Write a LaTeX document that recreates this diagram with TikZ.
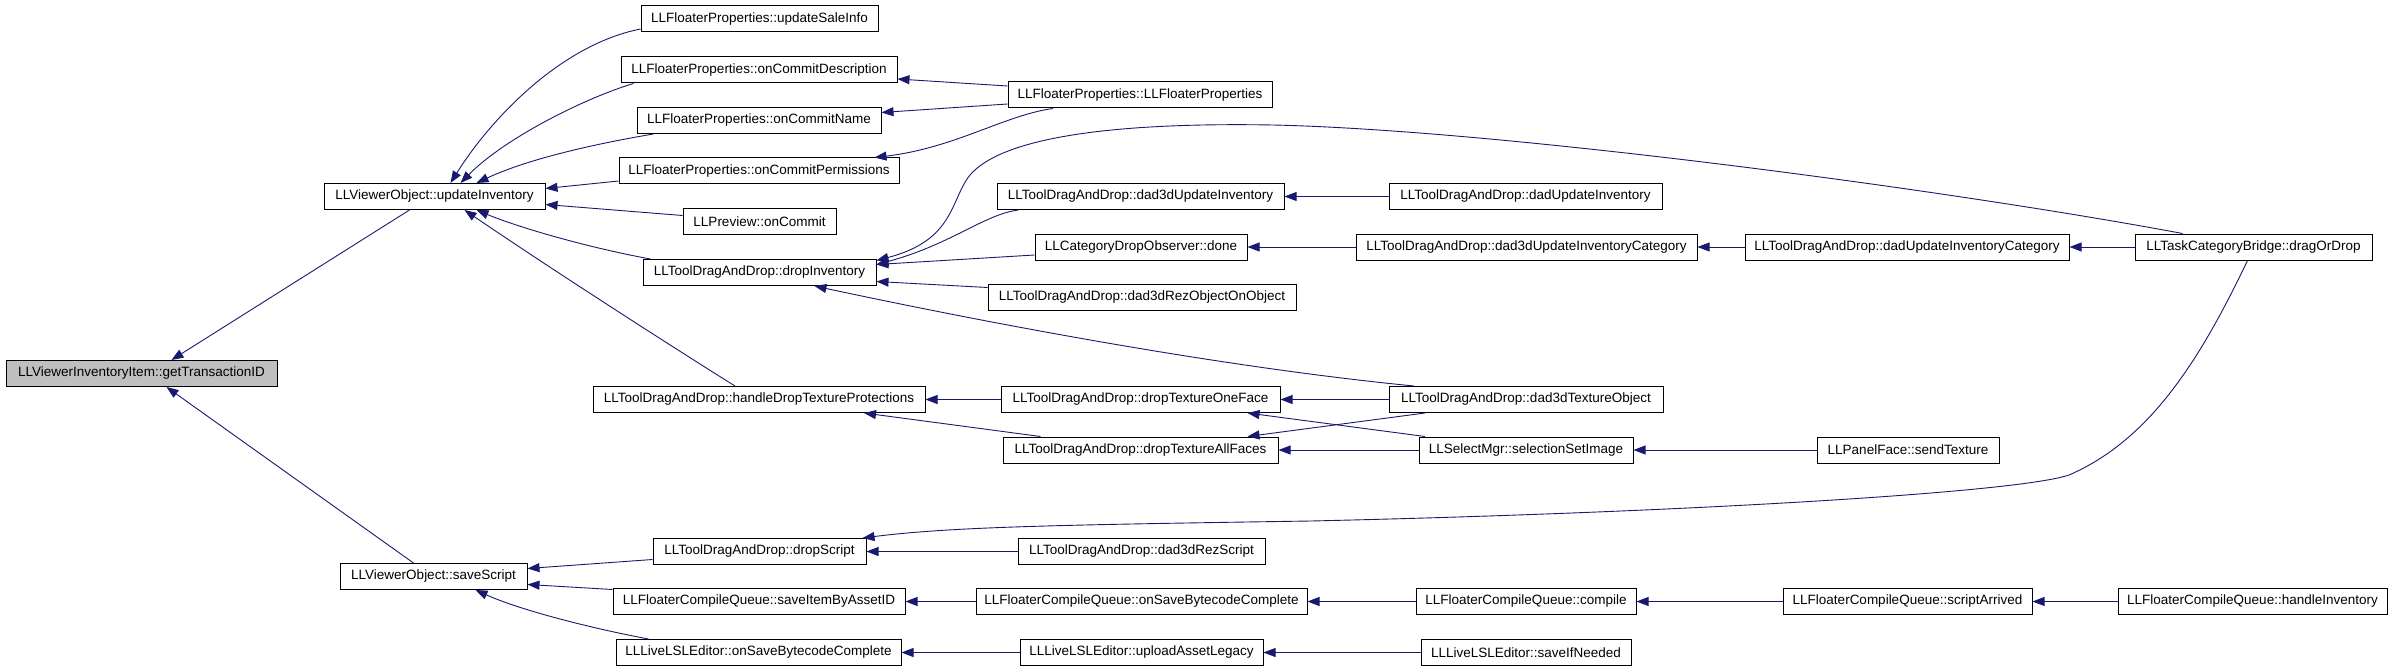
\documentclass[tikz,border=0pt]{standalone}
\usepackage{fontspec}
\setmainfont{Liberation Sans}
\usetikzlibrary{arrows.meta}
\definecolor{edgeblue}{HTML}{191970}
\definecolor{rootgray}{HTML}{BFBFBF}
\tikzset{
  fn/.style={draw=black, line width=1pt, fill=white, inner sep=0pt,
    minimum height=26pt, font=\fontsize{13.5pt}{15pt}\selectfont},
  edge/.style={draw=edgeblue, line width=0.9pt,
    -{Triangle[length=12pt,width=9pt]}}
}
\begin{document}
\begin{tikzpicture}[x=1pt,y=-1pt]
\fill[white] (0,0) rectangle (2392,671);
\useasboundingbox (0,0) rectangle (2392,671);
% column 1
\node[fn, fill=rootgray, minimum width=271pt] (gt) at (141.5,373.5) {LLViewerInventoryItem::getTransactionID};
% column 2
\node[fn, minimum width=221pt] (ui) at (434.5,196.5) {LLViewerObject::updateInventory};
\node[fn, minimum width=187pt] (ss) at (433.5,576.5) {LLViewerObject::saveScript};
% column 3
\node[fn, minimum width=237pt] (usi) at (759.5,19) {LLFloaterProperties::updateSaleInfo};
\node[fn, minimum width=276pt] (ocd) at (759,70) {LLFloaterProperties::onCommitDescription};
\node[fn, minimum width=244pt] (ocn) at (759,120.5) {LLFloaterProperties::onCommitName};
\node[fn, minimum width=280pt] (ocp) at (759,171) {LLFloaterProperties::onCommitPermissions};
\node[fn, minimum width=153pt] (poc) at (759.5,221.5) {LLPreview::onCommit};
\node[fn, minimum width=233pt] (di) at (759.5,272.5) {LLToolDragAndDrop::dropInventory};
\node[fn, minimum width=332pt] (hdtp) at (759,399.5) {LLToolDragAndDrop::handleDropTextureProtections};
\node[fn, minimum width=213pt] (ds) at (759.5,551.5) {LLToolDragAndDrop::dropScript};
\node[fn, minimum width=292pt] (sia) at (759,601.5) {LLFloaterCompileQueue::saveItemByAssetID};
\node[fn, minimum width=285pt] (lsb) at (758.5,652.5) {LLLiveLSLEditor::onSaveBytecodeComplete};
% column 4
\node[fn, minimum width=264pt] (fp) at (1140,95) {LLFloaterProperties::LLFloaterProperties};
\node[fn, minimum width=287pt] (d3ui) at (1140.5,196.5) {LLToolDragAndDrop::dad3dUpdateInventory};
\node[fn, minimum width=212pt] (cdo) at (1141,247) {LLCategoryDropObserver::done};
\node[fn, minimum width=308pt] (d3roo) at (1142,297.5) {LLToolDragAndDrop::dad3dRezObjectOnObject};
\node[fn, minimum width=279pt] (dtof) at (1140.5,399.5) {LLToolDragAndDrop::dropTextureOneFace};
\node[fn, minimum width=275pt] (dtaf) at (1140.5,450) {LLToolDragAndDrop::dropTextureAllFaces};
\node[fn, minimum width=247pt] (d3rs) at (1141.5,551.5) {LLToolDragAndDrop::dad3dRezScript};
\node[fn, minimum width=331pt] (fcqsb) at (1141.5,601.5) {LLFloaterCompileQueue::onSaveBytecodeComplete};
\node[fn, minimum width=243pt] (ual) at (1141.5,652.5) {LLLiveLSLEditor::uploadAssetLegacy};
% column 5
\node[fn, minimum width=273pt] (dui) at (1525.5,196.5) {LLToolDragAndDrop::dadUpdateInventory};
\node[fn, minimum width=341pt] (d3uic) at (1526.5,247) {LLToolDragAndDrop::dad3dUpdateInventoryCategory};
\node[fn, minimum width=274pt] (d3to) at (1526,399.5) {LLToolDragAndDrop::dad3dTextureObject};
\node[fn, minimum width=214pt] (ssi) at (1526,450) {LLSelectMgr::selectionSetImage};
\node[fn, minimum width=220pt] (comp) at (1526,601.5) {LLFloaterCompileQueue::compile};
\node[fn, minimum width=210pt] (sin) at (1526,652.5) {LLLiveLSLEditor::saveIfNeeded};
% column 6
\node[fn, minimum width=324pt] (duic) at (1907,247) {LLToolDragAndDrop::dadUpdateInventoryCategory};
\node[fn, minimum width=182pt] (pfst) at (1908,450) {LLPanelFace::sendTexture};
\node[fn, minimum width=249pt] (sa) at (1907.5,601.5) {LLFloaterCompileQueue::scriptArrived};
% column 7
\node[fn, minimum width=237pt] (tcb) at (2253.5,247) {LLTaskCategoryBridge::dragOrDrop};
\node[fn, minimum width=269pt] (hi) at (2252.5,601.5) {LLFloaterCompileQueue::handleInventory};

% edges into getTransactionID
\draw[edge] ([xshift=-25pt]ui.south) -- ([xshift=30pt]gt.north);
\draw[edge] ([xshift=-20pt]ss.north) -- ([xshift=25pt]gt.south);
% edges into updateInventory
\draw[edge] ([yshift=-10pt]usi.west) .. controls (560,45) and (490,120) .. ([xshift=16pt]ui.north);
\draw[edge] ([xshift=13pt]ocd.south west) .. controls (585,98) and (505,138) .. ([xshift=26pt]ui.north);
\draw[edge] ([xshift=17pt]ocn.south west) .. controls (600,143) and (530,158) .. ([xshift=42pt]ui.north);
\draw[edge] ([yshift=-10pt]ocp.west) -- ([yshift=8pt]ui.east);
\draw[edge] ([yshift=6pt]poc.west) -- ([yshift=-8pt]ui.east);
\draw[edge] ([xshift=8pt]di.north west) .. controls (590,248) and (520,228) .. ([xshift=42pt]ui.south);
\draw[edge] ([xshift=-24pt]hdtp.north) .. controls (690,358) and (560,275) .. ([xshift=30pt]ui.south);
% LLFloaterProperties
\draw[edge] ([yshift=9pt]fp.west) -- ([yshift=-9pt]ocd.east);
\draw[edge] ([yshift=-9pt]fp.west) -- ([yshift=8pt]ocn.east);
\draw[edge] ([xshift=-87pt]fp.south) .. controls (1005,115) and (955,148) .. ([xshift=-25pt]ocp.north east);
% into dropInventory
\draw[edge] ([xshift=22pt]d3ui.south west) .. controls (985,214) and (950,245) .. ([yshift=8pt]di.east);
\draw[edge] ([yshift=-8pt]cdo.west) -- ([yshift=8pt]di.east);
\draw[edge] ([yshift=10pt]d3roo.west) -- ([yshift=-9pt]di.east);
\draw[edge] ([xshift=-71pt]tcb.north) .. controls (1950,190) and (1500,130) .. (1273,125)
  .. controls (1100,122) and (1000,140) .. (970,175)
  .. controls (950,200) and (955,240) .. ([yshift=12pt]di.east);
\draw[edge] ([xshift=-112pt]d3to.north) .. controls (1200,365) and (950,315) .. ([xshift=55pt]di.south);
% horizontal chains
\draw[edge] (dui) -- (d3ui);
\draw[edge] (d3uic) -- (cdo);
\draw[edge] (duic) -- (d3uic);
\draw[edge] (tcb) -- (duic);
\draw[edge] (d3rs) -- (ds);
\draw[edge] (dtof) -- (hdtp);
\draw[edge] (d3to) -- (dtof);
\draw[edge] (ssi) -- (dtaf);
\draw[edge] (pfst) -- (ssi);
\draw[edge] (fcqsb) -- (sia);
\draw[edge] (comp) -- (fcqsb);
\draw[edge] (sa) -- (comp);
\draw[edge] (hi) -- (sa);
\draw[edge] (ual) -- (lsb);
\draw[edge] (sin) -- (ual);
% crossing texture edges
\draw[edge] ([xshift=-100pt]dtaf.north) -- ([xshift=105pt]hdtp.south);
\draw[edge] ([xshift=-101pt]d3to.south) -- ([xshift=107pt]dtaf.north);
\draw[edge] ([xshift=-101pt]ssi.north) -- ([xshift=107pt]dtof.south);
% dragOrDrop to dropScript
\draw[edge] ([xshift=-6pt]tcb.south) .. controls (2200,360) and (2150,440) .. (2069,475)
  .. controls (2020,492) and (1700,512) .. (1311,521)
  .. controls (1050,525) and (950,527) .. ([xshift=-4pt]ds.north east);
% into saveScript
\draw[edge] ([yshift=-8pt]ds.west) -- ([yshift=8pt]ss.east);
\draw[edge] ([yshift=12pt]sia.west) -- ([yshift=-8pt]ss.east);
\draw[edge] ([xshift=33pt]lsb.north west) .. controls (590,628) and (520,610) .. ([xshift=42pt]ss.south);
\end{tikzpicture}
\end{document}
